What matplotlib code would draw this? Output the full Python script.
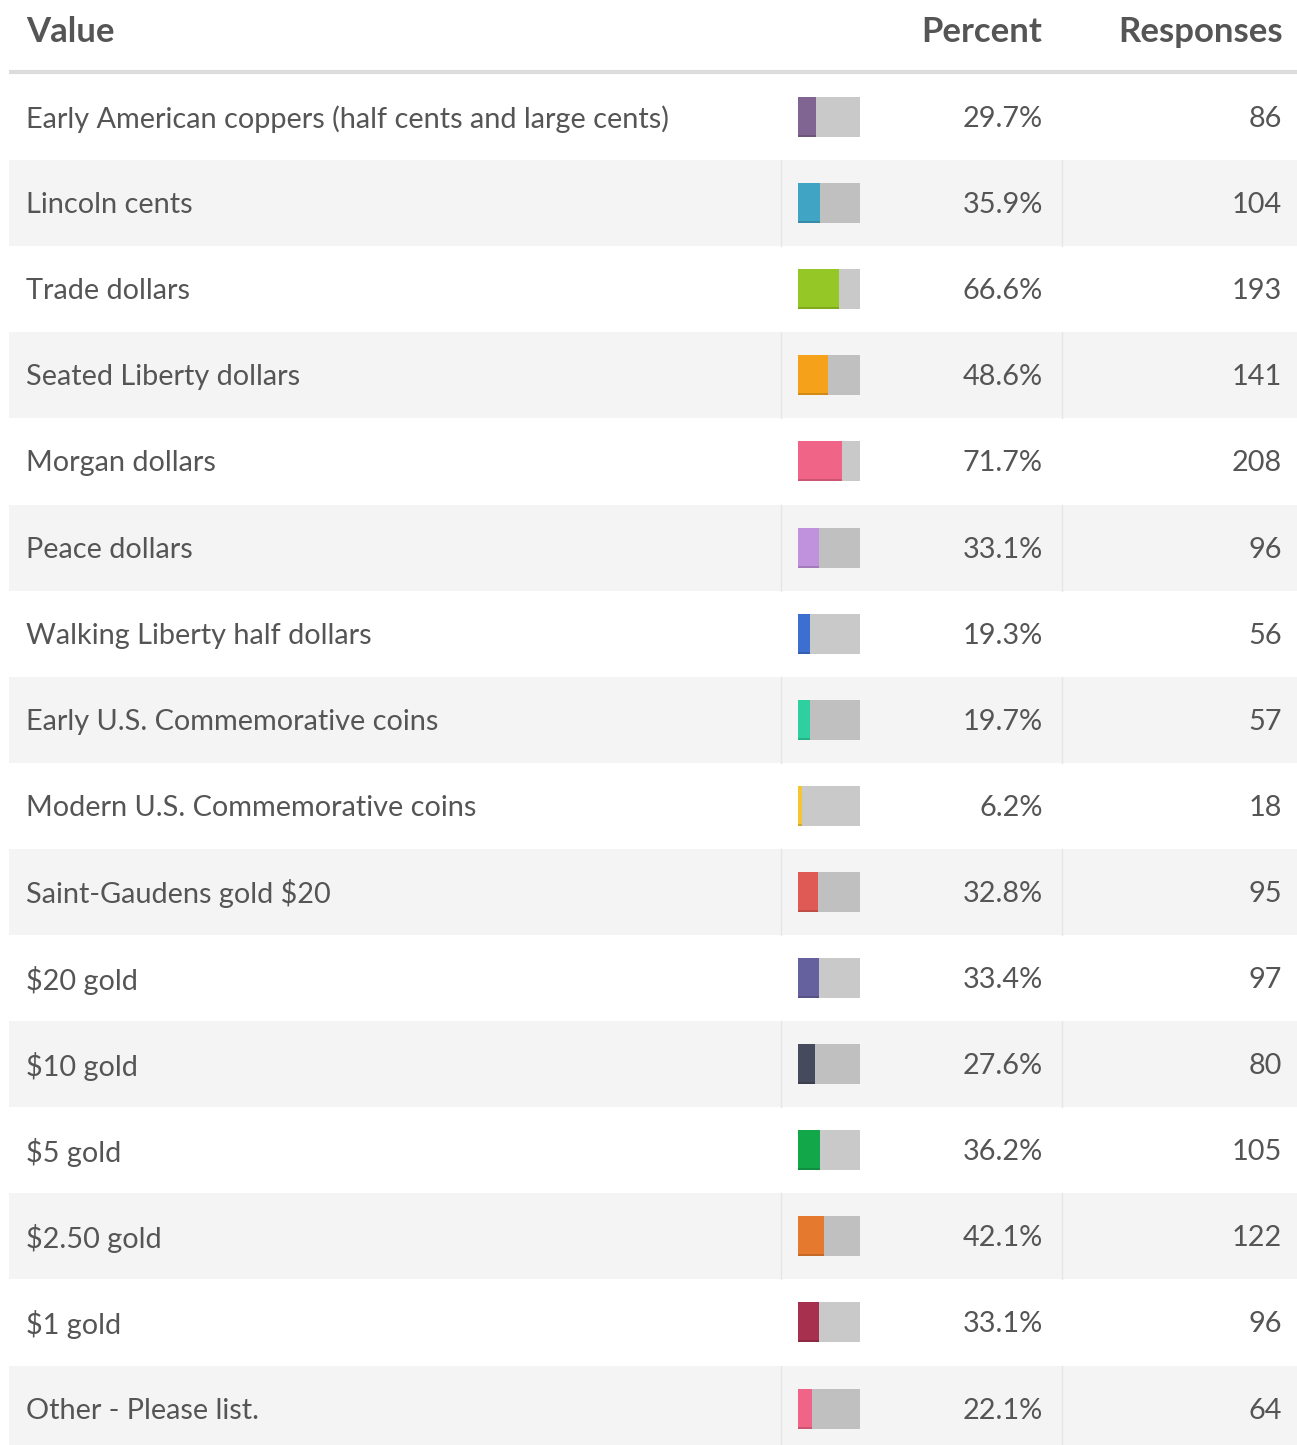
import matplotlib
matplotlib.use('Agg')
import matplotlib.pyplot as plt
import matplotlib.colors as mcolors
import numpy as np

# ── Data ──────────────────────────────────────────────────────────
labels = [
    'Early American coppers (half cents and large cents)',
    'Lincoln cents',
    'Trade dollars',
    'Seated Liberty dollars',
    'Morgan dollars',
    'Peace dollars',
    'Walking Liberty half dollars',
    'Early U.S. Commemorative coins',
    'Modern U.S. Commemorative coins',
    'Saint-Gaudens gold $20',
    '$20 gold',
    '$10 gold',
    '$5 gold',
    '$2.50 gold',
    '$1 gold',
    'Other - Please list.',
]
percent = [29.7, 35.9, 66.6, 48.6, 71.7, 33.1, 19.3, 19.7, 6.2, 32.8, 33.4, 27.6, 36.2, 42.1, 33.1, 22.1]
responses = [86, 104, 193, 141, 208, 96, 56, 57, 18, 95, 97, 80, 105, 122, 96, 64]
bar_colors = ['#806491', '#40a4c4', '#95c826', '#f5a21a', '#f06488', '#c091dc',
              '#3d6fd1', '#2ed0a0', '#f2c732', '#e05a55', '#65619e', '#454a5c',
              '#12a84a', '#e57a2e', '#a8304f', '#f06488']
headers = ['Value', 'Percent', 'Responses']

# ── Layout (pixel units) ───────────────────────────────────────────
W, H = 1297, 1445
TABLE_L, TABLE_R = 9, 1297
TOP = 74
ROW_H = 86.1
BAR_X, BAR_W, BAR_H = 798, 62, 40
SEP_X = [781, 1062]
TEXT = '#555555'

plt.rcParams['font.family'] = ['Lato', 'DejaVu Sans']

fig = plt.figure(figsize=(W / 100, H / 100), dpi=100)
ax = fig.add_axes([0, 0, 1, 1])
ax.set_xlim(0, W)
ax.set_ylim(H, 0)
ax.axis('off')

n = len(labels)
idx = np.arange(n)
centers = TOP + ROW_H / 2 + idx * ROW_H

# striped rows
for i in idx:
    if i % 2 == 1:
        top = TOP + i * ROW_H
        ax.axhspan(top, top + ROW_H, xmin=TABLE_L / W, xmax=TABLE_R / W,
                   color='#f4f4f4', lw=0, zorder=0)
        for sx in SEP_X:
            ax.plot([sx, sx], [top, top + ROW_H], color='#e6e6e6', lw=1, zorder=1)

# header
ax.plot([TABLE_L, TABLE_R], [72, 72], color='#dcdcdc', lw=3, solid_capstyle='butt')
ax.text(26, 32, headers[0], fontsize=25, fontweight='bold', color=TEXT, va='center', ha='left')
ax.text(1042, 32, headers[1], fontsize=25, fontweight='bold', color=TEXT, va='center', ha='right')
ax.text(1283, 32, headers[2], fontsize=25, fontweight='bold', color=TEXT, va='center', ha='right')

# bars: grey track + coloured fill
ax.barh(centers, [BAR_W] * n, left=BAR_X, height=BAR_H, color='black', alpha=0.21, lw=0, zorder=2)
fill_w = np.array(percent) / 100 * BAR_W
ax.barh(centers, fill_w, left=BAR_X, height=BAR_H, color=bar_colors, lw=0, zorder=3)
dark = [tuple(np.array(mcolors.to_rgb(c)) * 0.85) for c in bar_colors]
ax.barh(centers + BAR_H / 2 - 1, fill_w, left=BAR_X, height=2, color=dark, lw=0, zorder=4)

# row text
for i in idx:
    y = centers[i] + 2
    ax.text(26, y, labels[i], fontsize=20.8, color=TEXT, va='center', ha='left')
    ax.text(1043, y, f'{percent[i]:.1f}%', fontsize=20.8, color=TEXT, va='center', ha='right')
    ax.text(1282, y, f'{responses[i]}', fontsize=20.8, color=TEXT, va='center', ha='right')

fig.savefig('out.png', dpi=100, facecolor='white')
